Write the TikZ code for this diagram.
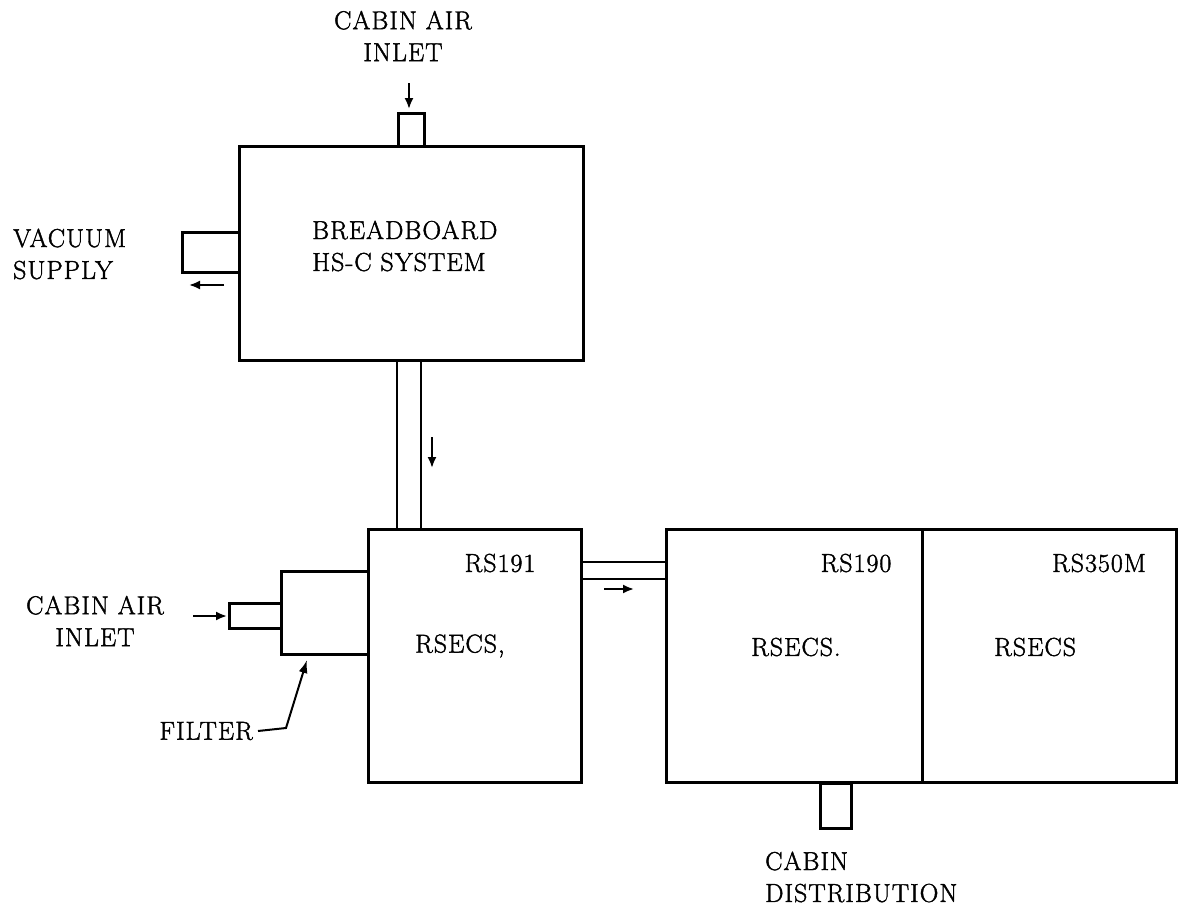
\documentclass[tikz,border=0pt]{standalone}
\usepackage{fontspec}
\newfontfamily\lblfont{Latin Modern Roman}[FakeBold=1.6, LetterSpace=4]
\usetikzlibrary{arrows.meta}
\begin{document}
\begin{tikzpicture}[x=1bp,y=-1bp,
  box/.style={draw, line width=2.6bp, rectangle, inner sep=0pt, anchor=north west},
  wall/.style={line width=2.6bp},
  flow/.style={line width=2bp, -{Latex[length=11bp,width=9bp]}},
  lbl/.style={font=\lblfont\fontsize{26}{32}\selectfont, inner sep=0pt}]
\useasboundingbox (0,0) rectangle (1178,912);

% main boxes
\node[box, minimum width=344bp, minimum height=214bp] (bb) at (238,145) {};
\node[box, minimum width=213bp, minimum height=253bp] (rs191) at (367,528) {};
\node[box, minimum width=256bp, minimum height=253bp] (rs190) at (665,528) {};
\node[box, minimum width=254bp, minimum height=253bp] (rs350) at (921,528) {};

% stubs and filter
\node[box, minimum width=26bp, minimum height=33bp] (topin) at (397,112) {};
\node[box, minimum width=57bp, minimum height=40bp] (vac) at (181,231) {};
\node[box, minimum width=87bp, minimum height=83bp] (filt) at (280,570) {};
\node[box, minimum width=52bp, minimum height=25bp] (lin) at (228,602) {};
\node[box, minimum width=31bp, minimum height=45bp] (dist) at (819,782) {};

% pipes
\coordinate (pxa) at (397,0);
\coordinate (pxb) at (421,0);
\draw[wall] (bb.south -| pxa) -- (rs191.north -| pxa);
\draw[wall] (bb.south -| pxb) -- (rs191.north -| pxb);
\coordinate (pya) at (0,562);
\coordinate (pyb) at (0,579);
\draw[wall] (rs191.east |- pya) -- (rs190.west |- pya);
\draw[wall] (rs191.east |- pyb) -- (rs190.west |- pyb);

% flow arrows
\coordinate (a1s) at (409,83);  \coordinate (a1e) at (409,109);
\draw[flow] (a1s) -- (a1e);
\coordinate (a2s) at (224,285); \coordinate (a2e) at (189,285);
\draw[flow] (a2s) -- (a2e);
\coordinate (a3s) at (432,437); \coordinate (a3e) at (432,468);
\draw[flow] (a3s) -- (a3e);
\coordinate (a4s) at (193,616); \coordinate (a4e) at (227,616);
\draw[flow] (a4s) -- (a4e);
\coordinate (a5s) at (604,589); \coordinate (a5e) at (634,589);
\draw[flow] (a5s) -- (a5e);

% labels
\node[lbl, align=center] (tcab) at (403,36) {CABIN AIR\\INLET};
\node[lbl, align=left, anchor=west] (tvac) at (13,254) {VACUUM\\SUPPLY};
\node[lbl, align=left, anchor=west] (tbb) at (312,246) {BREADBOARD\\HS-C SYSTEM};
\node[lbl, align=center] (lcab) at (95,621) {CABIN AIR\\INLET};
\node[lbl, anchor=east] (tfilt) at (253,731) {FILTER};
\node[lbl] (t191) at (500,563) {RS191};
\node[lbl, anchor=west] (r191) at (415,646) {RSECS,};
\node[lbl] (t190) at (856,563) {RS190};
\node[lbl, anchor=west] (r190) at (751,647) {RSECS.};
\node[lbl] (t350) at (1099,563) {RS350M};
\node[lbl, anchor=west] (r350) at (994,647) {RSECS};
\node[lbl, align=left, anchor=west] (tdist) at (765,877) {CABIN\\DISTRIBUTION};

% filter leader
\coordinate (fl1) at (286,728);
\coordinate (fl2) at (307,660);
\draw[line width=2bp, -{Latex[length=13bp,width=9bp]}] ([xshift=5bp]tfilt.east) -- (fl1) -- (fl2);
\end{tikzpicture}
\end{document}
